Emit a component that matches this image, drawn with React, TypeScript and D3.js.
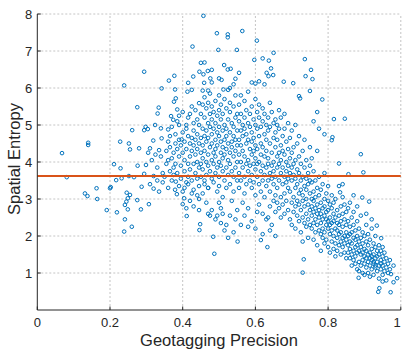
import React, { useEffect, useRef } from "react";
import * as d3 from "d3";

// sparse points: [precision, entropy]
const outliers: [number, number][] = [
  [0.068, 4.24], [0.081, 3.59], [0.14, 4.52], [0.14, 4.46], [0.131, 3.15], [0.138, 3.08],
  [0.163, 3.29], [0.165, 3.0], [0.191, 2.7], [0.2, 3.29], [0.202, 3.32], [0.211, 3.94],
  [0.229, 3.83], [0.217, 3.51], [0.232, 3.56], [0.219, 2.64], [0.241, 2.45], [0.239, 2.12],
  [0.26, 2.25], [0.246, 3.17], [0.255, 3.11], [0.249, 3.02], [0.245, 2.93], [0.241, 2.84],
  [0.249, 2.72], [0.228, 4.55], [0.239, 6.07], [0.294, 6.44], [0.275, 5.48], [0.261, 4.86],
  [0.252, 4.5], [0.255, 4.34], [0.28, 4.37], [0.31, 4.37], [0.294, 4.86], [0.298, 4.95],
  [0.304, 4.89], [0.324, 5.0], [0.319, 4.58], [0.342, 5.99], [0.334, 5.47], [0.331, 5.31],
  [0.34, 4.91], [0.342, 4.64], [0.276, 3.9], [0.299, 3.92], [0.266, 3.59], [0.252, 3.62],
  [0.275, 2.97], [0.285, 2.72], [0.287, 3.33], [0.294, 3.68], [0.307, 2.86],
  [0.362, 6.2], [0.377, 6.33], [0.379, 5.96], [0.381, 5.72], [0.376, 5.63], [0.368, 5.24],
  [0.374, 5.14], [0.385, 5.42], [0.39, 5.0], [0.397, 4.61], [0.36, 4.88], [0.4, 2.86],
  [0.411, 2.54], [0.404, 3.02], [0.381, 3.47], [0.379, 3.25], [0.384, 3.13],
  [0.457, 7.95], [0.427, 7.12], [0.45, 6.68], [0.46, 6.69], [0.429, 6.31], [0.446, 6.44],
  [0.457, 6.37], [0.415, 6.14], [0.425, 5.95], [0.413, 5.9], [0.455, 5.93], [0.47, 5.93],
  [0.445, 5.59], [0.459, 6.14], [0.476, 6.26], [0.48, 6.49], [0.469, 6.46],
  [0.532, 6.52], [0.555, 6.41], [0.514, 6.62], [0.524, 6.5], [0.5, 6.26], [0.507, 6.22],
  [0.512, 5.96], [0.494, 7.48], [0.524, 7.45], [0.524, 7.37], [0.564, 7.54], [0.549, 7.03],
  [0.498, 7.03], [0.48, 6.15], [0.54, 6.1], [0.545, 6.25], [0.53, 6.0],
  [0.604, 7.28], [0.65, 6.95], [0.597, 6.76], [0.62, 6.8], [0.637, 6.74], [0.643, 6.53],
  [0.631, 6.41], [0.649, 6.35], [0.636, 6.32], [0.59, 6.15], [0.6, 6.12], [0.61, 6.18],
  [0.625, 6.1], [0.633, 1.7], [0.615, 1.89], [0.551, 1.85],
  [0.678, 6.17], [0.704, 6.13], [0.75, 5.92], [0.72, 5.78], [0.723, 5.72], [0.736, 6.78],
  [0.753, 6.49], [0.738, 6.32], [0.757, 6.24], [0.73, 1.01], [0.733, 1.37],
  [0.784, 5.69], [0.816, 5.16], [0.846, 5.17], [0.812, 4.67], [0.81, 4.59], [0.83, 3.96],
  [0.856, 3.67], [0.84, 3.4], [0.833, 3.18], [0.76, 5.1], [0.77, 5.35], [0.775, 4.9], [0.79, 4.75],
  [0.897, 3.72], [0.913, 2.93], [0.894, 3.04], [0.89, 4.21], [0.934, 2.28], [0.946, 1.94],
  [0.938, 0.49], [0.941, 0.59], [0.972, 0.48], [0.973, 0.97], [0.99, 0.86], [0.95, 0.77],
  [0.884, 0.87], [0.86, 2.9], [0.87, 3.1], [0.88, 2.8], [0.905, 2.6], [0.92, 2.45],
  [0.31, 3.4], [0.32, 3.28], [0.33, 3.5], [0.335, 3.2], [0.345, 3.45], [0.33, 3.85],
  [0.345, 3.7], [0.315, 4.05], [0.325, 4.2], [0.34, 4.15], [0.305, 4.25], [0.335, 4.32],
  [0.32, 3.62], [0.35, 3.6],
  [0.405, 3.3], [0.415, 3.4], [0.425, 3.15], [0.44, 3.1], [0.455, 3.15], [0.46, 3.4],
  [0.47, 3.3], [0.445, 3.0], [0.465, 2.9], [0.41, 2.75], [0.43, 2.8], [0.475, 2.55],
  [0.47, 2.6], [0.49, 2.45], [0.495, 2.55], [0.505, 2.35], [0.448, 2.32], [0.446, 2.16],
  [0.484, 1.98], [0.487, 1.52],
  [0.48, 2.7], [0.5, 2.9], [0.51, 2.6], [0.52, 2.3], [0.53, 2.55], [0.545, 2.45],
  [0.515, 2.15], [0.54, 2.1], [0.525, 1.95], [0.505, 2.75],
  [0.57, 2.55], [0.59, 2.4], [0.6, 2.2], [0.62, 2.05], [0.64, 2.15], [0.605, 2.65],
  [0.58, 2.25], [0.635, 2.5], [0.655, 2.0], [0.56, 2.3],
];

// dense columns: [precision, entropy values at that precision]
const band35: [number, number[]][] = [
  [0.355, [4.3, 3.95]], [0.36, [4.55, 3.3, 4.05]], [0.365, [4.7, 3.75, 4.4]],
  [0.37, [3.5, 4.1, 4.95]], [0.375, [4.25, 3.85, 3.65]], [0.38, [4.5, 3.95, 4.75]],
  [0.385, [4.35, 3.7, 5.1]], [0.39, [4.15, 3.35, 4.6, 5.25]], [0.395, [3.9, 4.45, 3.55]],
  [0.4, [4.25, 4.8, 3.2, 5.35]], [0.405, [3.75, 4.55, 4.05]], [0.41, [4.35, 5.0, 3.45, 4.9]],
  [0.415, [3.95, 4.7, 5.2, 3.6]], [0.42, [4.15, 4.5, 3.8, 5.3, 2.95]],
  [0.425, [4.65, 3.5, 4.3, 5.5]], [0.43, [3.95, 4.85, 4.45, 3.25, 5.05]],
  [0.435, [4.2, 3.7, 4.6, 5.4]], [0.44, [4.0, 4.75, 3.55, 5.15, 4.35]],
  [0.445, [3.85, 4.5, 5.0, 3.35, 2.7]], [0.45, [4.25, 4.65, 3.95, 5.3, 3.6]],
];

const band45: [number, number[]][] = [
  [0.455, [4.9, 4.1, 5.55, 3.8, 4.45]], [0.46, [5.2, 3.5, 4.7, 4.3, 5.75]],
  [0.465, [4.0, 4.85, 5.45, 3.65, 4.55]], [0.47, [5.05, 4.2, 3.9, 4.65, 5.6, 3.3]],
  [0.475, [4.4, 5.3, 3.75, 4.95, 5.85]], [0.48, [4.05, 4.75, 5.15, 3.55, 4.5, 5.5]],
  [0.485, [4.25, 3.95, 4.9, 5.35, 3.45]], [0.49, [4.6, 5.05, 3.7, 4.35, 5.65, 4.15]],
  [0.495, [3.85, 4.8, 5.25, 4.45, 3.2]], [0.5, [4.0, 4.7, 5.4, 3.6, 4.95, 5.8, 3.35]],
  [0.505, [4.55, 5.15, 3.9, 4.25, 5.55]], [0.51, [4.85, 3.75, 4.4, 5.3, 3.05, 4.1]],
  [0.515, [5.0, 4.6, 3.5, 5.7, 4.2]], [0.52, [4.35, 3.85, 4.9, 5.45, 3.3, 4.7]],
  [0.525, [4.05, 5.15, 4.5, 3.65, 5.95]], [0.53, [4.8, 3.95, 5.35, 4.25, 3.4, 5.6]],
  [0.535, [4.55, 5.05, 3.75, 4.4, 2.95]], [0.54, [4.15, 4.95, 5.5, 3.6, 4.7, 3.2]],
  [0.545, [4.3, 5.2, 3.85, 4.6, 5.8]], [0.55, [4.0, 4.85, 3.5, 5.3, 4.45, 2.7]],
];

const band55: [number, number[]][] = [
  [0.555, [4.6, 5.1, 3.7, 4.2, 5.55, 3.3]], [0.56, [4.85, 4.0, 5.3, 3.5, 4.45, 5.8]],
  [0.565, [4.3, 5.0, 3.85, 4.7, 2.9]], [0.57, [5.2, 4.15, 3.6, 4.9, 5.65, 3.15]],
  [0.575, [4.5, 3.95, 5.4, 4.75, 3.4]], [0.58, [4.05, 5.05, 4.6, 3.75, 5.9, 2.75]],
  [0.585, [4.35, 3.5, 4.95, 5.3, 3.9]], [0.59, [4.8, 4.2, 3.3, 5.5, 4.55, 3.65]],
  [0.595, [3.95, 4.65, 5.15, 3.45, 4.3]], [0.6, [4.45, 3.8, 5.0, 5.7, 3.1, 4.1]],
  [0.605, [4.9, 3.6, 4.35, 5.35, 3.95]], [0.61, [4.0, 5.2, 3.4, 4.7, 2.85, 5.55]],
  [0.615, [4.5, 3.75, 4.95, 3.2, 4.2]], [0.62, [3.9, 5.1, 4.4, 3.5, 5.45, 2.6]],
  [0.625, [4.75, 3.65, 4.15, 3.05, 5.3]], [0.63, [4.3, 3.85, 5.0, 3.35, 4.6, 2.45]],
  [0.635, [3.95, 4.85, 3.5, 5.2, 4.1]], [0.64, [4.5, 3.7, 3.2, 4.95, 2.8, 5.6]],
  [0.645, [4.25, 3.55, 5.35, 3.9, 2.3]], [0.65, [4.65, 3.4, 4.0, 5.05, 2.95, 3.75]],
];

const band65: [number, number[]][] = [
  [0.655, [4.4, 3.6, 5.15, 3.1, 4.8, 2.65]], [0.66, [3.85, 4.6, 3.3, 5.0, 4.15, 2.9]],
  [0.665, [4.25, 3.5, 4.9, 2.75, 3.95, 5.4]], [0.67, [3.7, 4.45, 3.05, 5.2, 4.05, 2.5]],
  [0.675, [4.7, 3.4, 3.85, 2.85, 4.3]], [0.68, [3.6, 4.9, 3.15, 4.2, 2.6, 5.3]],
  [0.685, [4.0, 3.45, 4.55, 2.95, 3.75]], [0.69, [3.3, 4.35, 3.9, 2.7, 5.05, 3.55]],
  [0.695, [4.1, 3.2, 4.65, 2.45, 3.7]], [0.7, [3.5, 4.25, 2.9, 3.85, 4.85, 2.3]],
  [0.705, [3.65, 3.05, 4.4, 2.65, 3.95]], [0.71, [3.3, 4.05, 2.8, 3.55, 5.0, 2.2]],
  [0.715, [3.8, 2.95, 4.5, 3.4, 2.55]], [0.72, [3.15, 3.7, 2.4, 4.15, 2.85, 4.7]],
  [0.725, [3.5, 2.7, 3.95, 3.25, 2.1]], [0.73, [2.95, 3.6, 2.5, 4.3, 3.1, 1.85]],
  [0.735, [3.35, 2.8, 3.85, 2.35, 4.6]], [0.74, [3.0, 3.55, 2.6, 4.05, 2.25, 3.25]],
  [0.745, [2.85, 3.7, 2.45, 3.4, 1.95]], [0.75, [3.15, 2.7, 3.9, 2.3, 3.5, 4.4]],
];

const band75: [number, number[]][] = [
  [0.755, [3.0, 2.55, 3.45, 2.2, 2.8, 4.1]], [0.76, [2.65, 3.2, 2.35, 3.75, 1.9, 2.95]],
  [0.765, [2.45, 3.05, 2.75, 3.5, 2.1]], [0.77, [2.85, 2.3, 3.3, 2.6, 1.75, 4.3]],
  [0.775, [2.5, 3.1, 2.15, 2.7, 3.6]], [0.78, [2.35, 2.9, 2.05, 3.25, 2.6, 1.6]],
  [0.785, [2.75, 2.2, 3.4, 2.45, 1.95]], [0.79, [2.55, 3.0, 2.1, 2.8, 3.7, 1.8]],
  [0.795, [2.3, 2.65, 3.15, 1.9, 2.45]], [0.8, [2.7, 2.2, 2.95, 1.7, 2.4, 3.35]],
  [0.805, [2.5, 2.05, 2.85, 2.3, 1.55]], [0.81, [2.35, 2.75, 1.85, 3.1, 2.15]],
  [0.815, [2.6, 2.0, 2.4, 1.65, 2.9]], [0.82, [2.2, 2.5, 1.8, 3.0, 1.45]],
  [0.825, [2.35, 1.95, 2.7, 1.6, 2.15]], [0.83, [2.05, 2.55, 1.75, 2.3, 3.35]],
  [0.835, [2.4, 1.85, 2.8, 1.5, 2.1]], [0.84, [2.25, 1.7, 2.6, 1.95, 3.05]],
  [0.845, [2.0, 2.45, 1.55, 2.85, 1.8]], [0.85, [2.3, 1.9, 2.65, 1.4, 2.1]],
];

const band85: [number, number[]][] = [
  [0.855, [2.0, 1.55, 2.4, 1.75, 2.75]], [0.86, [1.85, 2.25, 1.4, 2.05, 1.65]],
  [0.865, [2.1, 1.5, 2.5, 1.8, 1.2]], [0.87, [1.95, 1.35, 2.3, 1.6, 2.65]],
  [0.875, [1.7, 2.15, 1.25, 1.9, 1.45]], [0.88, [2.0, 1.55, 1.1, 2.4, 1.75]],
  [0.885, [1.85, 1.3, 2.2, 1.6, 1.05]], [0.89, [1.5, 1.95, 1.2, 2.55, 1.7]],
  [0.895, [1.35, 1.8, 2.1, 1.0, 1.55]], [0.9, [1.65, 1.25, 2.0, 1.45, 0.95]],
  [0.905, [1.4, 1.85, 1.15, 2.3, 1.6]], [0.91, [1.3, 1.75, 1.0, 1.5, 2.05]],
  [0.915, [1.55, 1.2, 1.9, 1.4, 0.9]], [0.92, [1.35, 1.65, 1.1, 2.2, 1.45]],
  [0.925, [1.25, 1.5, 1.8, 0.95, 1.3]], [0.93, [1.4, 1.15, 1.7, 2.0, 1.2]],
  [0.935, [1.3, 1.6, 1.05, 1.45]], [0.94, [1.2, 1.5, 0.85, 1.75]],
  [0.945, [1.35, 1.1, 1.6, 1.25]], [0.95, [1.2, 1.45, 0.95, 1.7]],
  [0.955, [1.3, 1.05, 1.55]], [0.96, [1.15, 1.4, 0.8]], [0.965, [1.25, 1.0]],
  [0.97, [1.35, 1.1]], [0.98, [1.2, 0.75]],
];

const meanEntropy = 3.62;
const xTicks = [0, 0.2, 0.4, 0.6, 0.8, 1];
const yTicks = [1, 2, 3, 4, 5, 6, 7, 8];

const W = 402;
const H = 350;
const FONT = "'Liberation Sans', Arial, sans-serif";

const App = () => {
  const svgRef = useRef<SVGSVGElement>(null);

  useEffect(() => {
    const svg = d3.select(svgRef.current);
    svg.selectAll("*").remove();

    const x = d3.scaleLinear().domain([0, 1]).range([37.3, 400.8]);
    const y = d3.scaleLinear().domain([0, 8]).range([310, 14]);

    const points: [number, number][] = [...outliers];
    [band35, band45, band55, band65, band75, band85].forEach(band =>
      band.forEach(([p, es]) => es.forEach(e => points.push([p, e])))
    );

    // grid
    const grid = svg.append("g")
      .attr("stroke", "#c4c4c4")
      .attr("stroke-width", 1)
      .attr("stroke-dasharray", "2,2");
    xTicks.filter(t => t > 0).forEach(t => {
      grid.append("line")
        .attr("x1", x(t)).attr("x2", x(t))
        .attr("y1", y(0)).attr("y2", y(8));
    });
    yTicks.forEach(t => {
      grid.append("line")
        .attr("x1", x(0)).attr("x2", x(1))
        .attr("y1", y(t)).attr("y2", y(t));
    });

    // scatter
    svg.append("g")
      .selectAll("circle")
      .data(points)
      .enter()
      .append("circle")
      .attr("cx", d => x(d[0]))
      .attr("cy", d => y(d[1]))
      .attr("r", 1.8)
      .attr("fill", "none")
      .attr("stroke", "#0072BD")
      .attr("stroke-width", 1);

    // mean line
    svg.append("line")
      .attr("x1", x(0)).attr("x2", x(1))
      .attr("y1", y(meanEntropy)).attr("y2", y(meanEntropy))
      .attr("stroke", "#D95319")
      .attr("stroke-width", 2);

    // axes
    const axisColor = "#262626";
    svg.append("line")
      .attr("x1", x(0)).attr("x2", x(0))
      .attr("y1", y(0)).attr("y2", y(8))
      .attr("stroke", axisColor);
    svg.append("line")
      .attr("x1", x(0)).attr("x2", x(1))
      .attr("y1", y(0)).attr("y2", y(0))
      .attr("stroke", axisColor);

    yTicks.forEach(t => {
      svg.append("line")
        .attr("x1", x(0)).attr("x2", x(0) + 3.5)
        .attr("y1", y(t)).attr("y2", y(t))
        .attr("stroke", axisColor);
      svg.append("text")
        .attr("class", "tick")
        .attr("x", x(0) - 5)
        .attr("y", y(t))
        .attr("dy", "0.35em")
        .attr("text-anchor", "end")
        .text(t);
    });
    xTicks.forEach(t => {
      svg.append("line")
        .attr("x1", x(t)).attr("x2", x(t))
        .attr("y1", y(0)).attr("y2", y(0) - 3.5)
        .attr("stroke", axisColor);
      svg.append("text")
        .attr("class", "tick")
        .attr("x", Math.min(x(t), W - 5))
        .attr("y", 327)
        .attr("text-anchor", "middle")
        .text(t);
    });

    svg.selectAll("text.tick")
      .style("font-family", FONT)
      .style("font-size", "13px")
      .style("fill", axisColor);

    svg.append("text")
      .attr("x", 219)
      .attr("y", 346)
      .attr("text-anchor", "middle")
      .style("font-family", FONT)
      .style("font-size", "16.5px")
      .style("fill", axisColor)
      .text("Geotagging Precision");

    svg.append("text")
      .attr("transform", `translate(20,${159}) rotate(-90)`)
      .attr("text-anchor", "middle")
      .style("font-family", FONT)
      .style("font-size", "16.5px")
      .style("fill", axisColor)
      .text("Spatial Entropy");
  }, []);

  return (
    <svg
      ref={svgRef}
      width={W}
      height={H}
      style={{ position: "absolute", left: 0, top: 0, background: "#fff" }}
    />
  );
};

export default App;
